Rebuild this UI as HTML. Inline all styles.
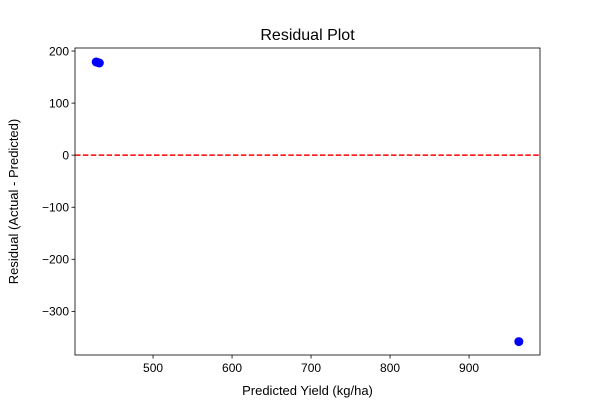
<!DOCTYPE html>
<html><head><meta charset="utf-8"><style>
body{margin:0;background:#fff;}
text{font-family:"Liberation Sans","DejaVu Sans",sans-serif;}
</style></head><body>
<svg id="chart" width="600" height="400" xmlns="http://www.w3.org/2000/svg">
<rect width="600" height="400" fill="#fff"/>
</svg>
<script>
const predicted = [428, 430, 432, 963];
const residuals = [179, 178, 177, -358];
const xTicks = [500, 600, 700, 800, 900];
const yTicks = [200, 100, 0, -100, -200, -300];
const L=75,R=540,T=48,B=355;
const xMin=401.2,xMax=989.8,yMin=-383.8,yMax=205.8;
const xs=v=>L+(v-xMin)/(xMax-xMin)*(R-L);
const ys=v=>B-(v-yMin)/(yMax-yMin)*(B-T);
const svg=document.getElementById('chart');
const NS='http://www.w3.org/2000/svg';
function mk(tag,attrs,txt){const e=document.createElementNS(NS,tag);for(const k in attrs)e.setAttribute(k,attrs[k]);if(txt!==undefined)e.textContent=txt;svg.appendChild(e);return e;}
let z=mk('line',{x1:L,x2:R,y1:ys(0),y2:ys(0),stroke:'#ff0000','stroke-width':1.5,'stroke-dasharray':'5.5,2.4'});


predicted.forEach((p,i)=>{
  const c=mk('circle',{cx:xs(p),cy:ys(residuals[i]),r:4.5,fill:'#0000ff'});
  
  
});
let f=mk('rect',{x:L,y:T,width:R-L,height:B-T,fill:'none',stroke:'#000','stroke-width':0.8});


xTicks.forEach(t=>{
  const x=xs(t);
  const l=mk('line',{x1:x,x2:x,y1:B,y2:B+3.5,stroke:'#000','stroke-width':0.8});
  
  
  const tx=mk('text',{x:x,y:B+17,'font-size':12,'text-anchor':'middle'},String(t));
  
  
});
yTicks.forEach(t=>{
  const y=ys(t);
  const l=mk('line',{x1:L-3.5,x2:L,y1:y,y2:y,stroke:'#000','stroke-width':0.8});
  
  
  const tx=mk('text',{x:L-6,y:y+4.3,'font-size':12,'text-anchor':'end'},(t<0?'\u2212'+(-t):String(t)));
  
  
});
let ti=mk('text',{x:(L+R)/2,y:40,'font-size':16,'text-anchor':'middle'},'Residual Plot');


let xl=mk('text',{x:(L+R)/2,y:395,'font-size':13,'text-anchor':'middle'},'Predicted Yield (kg/ha)');


let yl=mk('text',{x:0,y:0,'font-size':13,'text-anchor':'middle',transform:'translate(18,'+((T+B)/2)+') rotate(-90)'},'Residual (Actual - Predicted)');


</script>
</body></html>
